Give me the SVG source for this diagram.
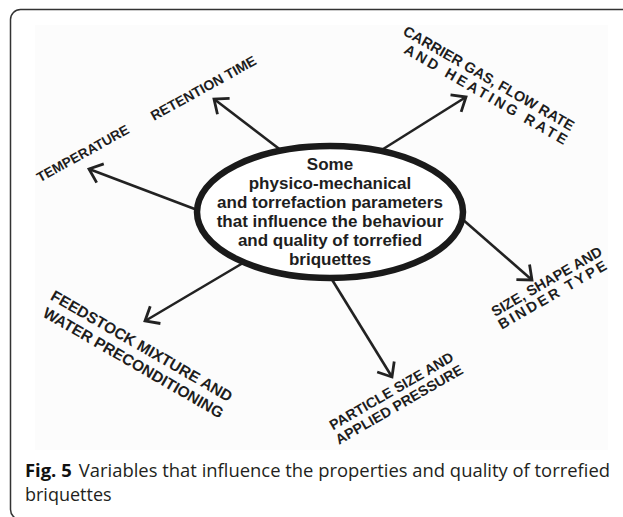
<svg xmlns="http://www.w3.org/2000/svg" width="623" height="517" viewBox="0 0 623 517">
  <style>
    .lbl { font-family: "Liberation Sans", Arial, sans-serif; font-weight: bold; fill: #1e1e1e; }
    .ctr { font-family: "Liberation Sans", Arial, sans-serif; font-weight: bold; font-size: 17px; fill: #1e1e1e; text-anchor: middle; }
    .conn { stroke: #222; stroke-width: 2.6; fill: none; marker-end: url(#chev); }
    .cap { font-family: "Open Sans", "Noto Sans", sans-serif; font-size: 18px; fill: #231f20; }
  </style>
  <defs>
    <marker id="chev" markerUnits="userSpaceOnUse" markerWidth="30" markerHeight="30" viewBox="-16 -15 30 30" refX="0" refY="0" orient="auto" overflow="visible">
      <path d="M-12,-10 L0,0 L-12,10" fill="none" stroke="#222" stroke-width="2.8" stroke-linejoin="miter"/>
    </marker>
  </defs>
  <rect x="0" y="0" width="623" height="517" fill="#ffffff"/>
  <rect id="frame" x="10.5" y="9.5" width="700" height="510" rx="10" fill="none" stroke="#333" stroke-width="1.5"/>
  <rect id="picture" x="35" y="25" width="573" height="425" fill="#fcfcfc"/>

  <g id="connectors">
    <line class="conn" x1="282" y1="151" x2="214" y2="99"/>
    <line class="conn" x1="200" y1="211" x2="89" y2="169"/>
    <line class="conn" x1="380" y1="151" x2="466" y2="97"/>
    <line class="conn" x1="461" y1="218" x2="532" y2="280"/>
    <line class="conn" x1="243" y1="263" x2="145" y2="321"/>
    <line class="conn" x1="331" y1="278" x2="392" y2="377"/>
  </g>

  <g id="center">
    <ellipse cx="330" cy="212" rx="133" ry="66" fill="#ffffff" stroke="#1a1a1a" stroke-width="6.5"/>
    <text class="ctr" x="330" y="170">Some</text>
    <text class="ctr" x="330" y="189">physico-mechanical</text>
    <text class="ctr" x="330" y="208">and torrefaction parameters</text>
    <text class="ctr" x="330" y="227">that influence the behaviour</text>
    <text class="ctr" x="330" y="246">and quality of torrefied</text>
    <text class="ctr" x="330" y="265">briquettes</text>
  </g>

  <g id="retention">
    <text class="lbl" font-size="14" transform="translate(154,121) rotate(-29)">RETENTION TIME</text>
  </g>
  <g id="temperature">
    <text class="lbl" font-size="13.7" transform="translate(40,182.6) rotate(-29)">TEMPERATURE</text>
  </g>
  <g id="carrier">
    <g transform="translate(402,34) rotate(30)">
      <text class="lbl" font-size="14.5" x="0" y="0">CARRIER GAS, FLOW RATE</text>
      <text class="lbl" font-size="14.5" x="10" y="15.5" letter-spacing="2.9">AND HEATING RATE</text>
    </g>
  </g>
  <g id="size">
    <g transform="translate(495,317) rotate(-30)">
      <text class="lbl" font-size="14.5" x="0" y="0">SIZE, SHAPE AND</text>
      <text class="lbl" font-size="14.5" x="-0.6" y="14.5" letter-spacing="2.5">BINDER TYPE</text>
    </g>
  </g>
  <g id="feedstock">
    <g transform="translate(49.5,299) rotate(30)">
      <text class="lbl" font-size="15.5" x="0" y="0">FEEDSTOCK MIXTURE AND</text>
      <text class="lbl" font-size="15.5" x="1.7" y="18.6">WATER PRECONDITIONING</text>
    </g>
  </g>
  <g id="particle">
    <g transform="translate(333,430.5) rotate(-30)">
      <text class="lbl" font-size="14.3" x="0" y="0">PARTICLE SIZE AND</text>
      <text class="lbl" font-size="14.3" x="-2" y="15.6">APPLIED PRESSURE</text>
    </g>
  </g>

  <g id="caption">
    <text class="cap" x="25" y="477" textLength="585" lengthAdjust="spacingAndGlyphs"><tspan font-weight="bold" fill="#111">Fig. 5</tspan><tspan dx="7">Variables that influence the properties and quality of torrefied</tspan></text>
    <text class="cap" x="25" y="501">briquettes</text>
  </g>
</svg>
